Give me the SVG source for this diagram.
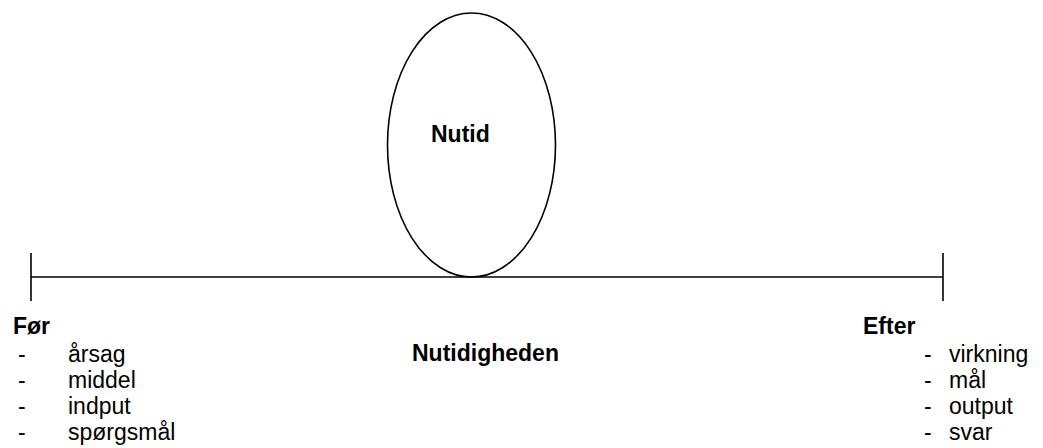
<svg xmlns="http://www.w3.org/2000/svg" width="1043" height="448" viewBox="0 0 1043 448">
<style>
.ln{stroke:#000;stroke-width:1.6;fill:none}
.b{font-family:"Liberation Sans",Arial,sans-serif;font-weight:bold;font-size:23px;fill:#000}
.t{font-family:"Liberation Sans",Arial,sans-serif;font-size:23px;fill:#000}
</style>
<rect width="1043" height="448" fill="#fff"/>
<g id="connectors">
<line class="ln" x1="31" y1="277" x2="943" y2="277"/>
<line class="ln" x1="31" y1="253" x2="31" y2="301"/>
<line class="ln" x1="943" y1="253" x2="943" y2="301"/>
</g>
<g id="nutid">
<ellipse class="ln" cx="471.5" cy="145" rx="84" ry="132"/>
<text class="b" x="431" y="142">Nutid</text>
</g>
<g id="nutidigheden">
<text class="b" x="412" y="361">Nutidigheden</text>
</g>
<g id="foer">
<text class="b" x="13" y="334">Før</text>
<text class="t" x="18" y="362">-</text><text class="t" x="68" y="362">årsag</text>
<text class="t" x="18" y="388">-</text><text class="t" x="68" y="388">middel</text>
<text class="t" x="18" y="414">-</text><text class="t" x="68" y="414">indput</text>
<text class="t" x="18" y="440">-</text><text class="t" x="68" y="440">spørgsmål</text>
</g>
<g id="efter">
<text class="b" x="863" y="334">Efter</text>
<text class="t" x="924" y="362">-</text><text class="t" x="949" y="362">virkning</text>
<text class="t" x="924" y="388">-</text><text class="t" x="949" y="388">mål</text>
<text class="t" x="924" y="414">-</text><text class="t" x="949" y="414">output</text>
<text class="t" x="924" y="440">-</text><text class="t" x="949" y="440">svar</text>
</g>
</svg>
